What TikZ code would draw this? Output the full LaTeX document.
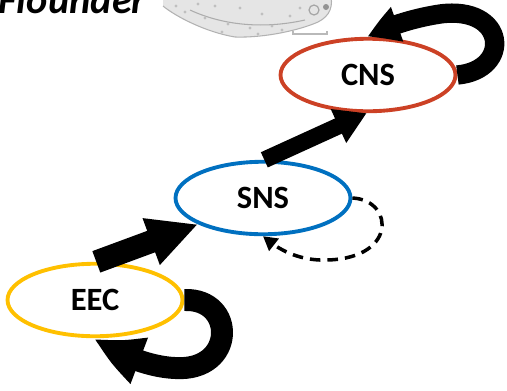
\documentclass[tikz,border=0pt]{standalone}
\usepackage{fontspec}
\setmainfont{Carlito}
\usetikzlibrary{arrows.meta,bending,shapes.geometric}
\definecolor{eecyellow}{HTML}{FFC000}
\definecolor{snsblue}{HTML}{0070C0}
\definecolor{cnsred}{HTML}{CC4125}

\begin{document}
\begin{tikzpicture}[x=0.02cm,y=-0.02cm,
	organ/.style={ellipse,line width=2.2pt,inner sep=0pt,minimum width=3.5cm,minimum height=1.45cm,font=\fontsize{18.5}{20}\selectfont\bfseries}]
	\useasboundingbox (0,0) rectangle (507,390);
	\clip (0,0) rectangle (507,390);

	% title and fish sketch
	\node (title) at (-2,13) [anchor=base west,inner sep=0pt,font=\fontsize{23}{26}\selectfont\bfseries\itshape] {Flounder};
	\fill [gray!20] (163,-8) -- (163,6) .. controls (175,16) and (205,32) .. (235,37)
		.. controls (265,38) and (300,30) .. (318,22) .. controls (330,16) and (334,6) .. (330,-8) -- cycle;
	\draw [gray!60,line width=0.6pt] (163,6) .. controls (175,16) and (205,32) .. (235,37)
		.. controls (265,38) and (300,30) .. (318,22) .. controls (330,16) and (334,6) .. (330,-8);
	\draw [gray!65,line width=0.6pt] (190,10) .. controls (220,24) and (260,30) .. (305,20);
	\draw [gray!70,line width=0.7pt] (314,10) circle [radius=5];
	\fill [gray!85] (326,7) circle [radius=3];
	\foreach \sx/\sy in {185/12,205/18,228/24,250/28,272/26,290/16,240/8,215/6,262/14,282/30,198/4,176/6,300/8,222/32,258/34}
		\fill [gray!50] (\sx,\sy) circle [radius=1.7];
	\draw [gray!55,line width=0.6pt] (293,31) -- (293,34) -- (327,34) -- (327,31);

	% compartments
	\node (eec) at (95,300) [organ,draw=eecyellow] {EEC};
	\node (sns) at (263,198) [organ,draw=snsblue] {SNS};
	\node (cns) at (368,75) [organ,draw=cnsred] {CNS};

	% transfer between compartments
	\draw [line width=13pt,-{Triangle[length=1.0cm,width=0.92cm]}] (eec.88) -- (sns.202);
	\draw [line width=9.5pt,-{Triangle[length=0.62cm,width=0.7cm]}] (sns.88) -- (cns.268);

	% loops back into each compartment
	\draw [line width=11pt,-{Triangle[bend,length=0.62cm,width=0.7cm]}] (cns.east)
		.. controls (512,70) and (507,5) .. (440,14) .. controls (414,18) and (388,26) .. (cns.north);
	\draw [line width=2pt,dash pattern=on 6pt off 4pt,-{Triangle[length=0.28cm,width=0.3cm]}] (sns.east)
		.. controls (395,200) and (398,262) .. (320,260) .. controls (295,259) and (276,248) .. (sns.south);
	\draw [line width=12.5pt,-{Triangle[bend,length=0.98cm,width=0.92cm]}] (eec.east)
		.. controls (236,298) and (236,372) .. (175,368) .. controls (150,367) and (118,355) .. (eec.south);
\end{tikzpicture}
\end{document}
